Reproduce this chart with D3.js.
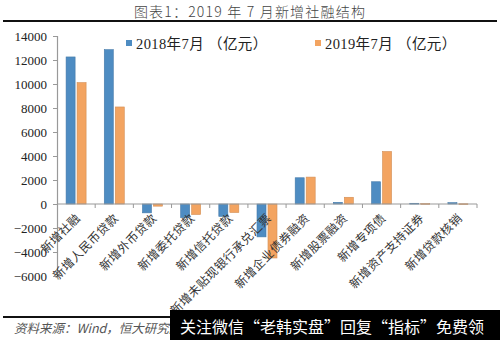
<!DOCTYPE html>
<html><head><meta charset="utf-8">
<script src="https://cdn.jsdelivr.net/npm/d3@7"></script>
<style>body{margin:0;background:#fff;}svg{display:block;}</style>
</head><body>
<script>
const categories = ["新增社融","新增人民币贷款","新增外币贷款","新增委托贷款","新增信托贷款","新增未贴现银行承兑汇票","新增企业债券融资","新增股票融资","新增专项债","新增资产支持证券","新增贷款核销"];
const series2018 = [12254, 12861, -737, -1136, -1031, -2740, 2186, 138, 1854, 60, 110];
const series2019 = [10115, 8086, -179, -876, -707, -4500, 2242, 560, 4372, 40, 20];
const seriesNames = ["2018年7月 （亿元）","2019年7月 （亿元）"];
const yTicks = [-6000,-4000,-2000,0,2000,4000,6000,8000,10000,12000,14000];
const colors = ["#4e8cc2","#f3a461"];

(function(){
const W=500,H=340;
const svg=d3.select("body").append("svg").attr("width",W).attr("height",H);
const pLeft=57,pRight=477,pTop=36,pBottom=276;
const y=d3.scaleLinear().domain([-6000,14000]).range([pBottom,pTop]);
const x=d3.scaleBand().domain(categories).range([pLeft,pRight]).paddingInner(0).paddingOuter(0);
const sub=d3.scaleBand().domain([0,1]).range([x.bandwidth()/2-10,x.bandwidth()/2+10]).paddingInner(0.18);

// title
svg.append("text").attr("x",250).attr("y",17).attr("text-anchor","middle")
  .attr("font-family","Noto Sans CJK SC").attr("font-weight",300).attr("font-size",14).attr("letter-spacing",1.2).attr("fill","#444")
  .text("图表1：2019 年 7 月新增社融结构");
svg.append("line").attr("x1",3).attr("x2",497).attr("y1",21).attr("y2",21).attr("stroke","#111").attr("stroke-width",2);

// y axis
const ya=svg.append("g").attr("transform",`translate(${pLeft},0)`).call(d3.axisLeft(y).tickValues(yTicks).tickSize(4).tickPadding(6).tickFormat(d3.format("d")));
ya.select(".domain").attr("stroke","#999").attr("stroke-width",1.2);
ya.selectAll(".tick line").attr("stroke","#999");
ya.selectAll("text").attr("font-family","Liberation Serif").attr("font-size",13).attr("fill","#222");

// bars
const data=[series2018,series2019];
data.forEach((s,i)=>{
  svg.append("g").selectAll("rect").data(s).join("rect")
    .attr("x",(d,j)=>x(categories[j])+sub(i))
    .attr("width",sub.bandwidth())
    .attr("y",d=>y(Math.max(0,d)))
    .attr("height",d=>Math.max(0.8,Math.abs(y(d)-y(0))))
    .attr("fill",colors[i])
    .attr("stroke",d3.color(colors[i]).darker(0.4)).attr("stroke-width",0.6);
});

// x axis at zero
const xa=svg.append("g").attr("transform",`translate(0,${y(0)})`);
xa.append("line").attr("x1",pLeft).attr("x2",pRight).attr("stroke","#999").attr("stroke-width",1.2);
const bounds=categories.map(c=>x(c)).concat([pRight]);
xa.selectAll(".tk").data(bounds.slice(1)).join("line").attr("x1",d=>d).attr("x2",d=>d).attr("y1",0).attr("y2",4).attr("stroke","#999");
svg.append("g").selectAll("text").data(categories).join("text")
  .attr("transform",c=>`translate(${x(c)+x.bandwidth()/2+5},${y(0)+15}) rotate(-45)`)
  .attr("text-anchor","end").attr("font-family","Noto Sans CJK SC").attr("font-size",12).attr("letter-spacing",0.4).attr("fill","#333")
  .text(c=>c);

// legend
seriesNames.forEach((n,i)=>{
  const lx=i===0?126:315;
  svg.append("rect").attr("x",lx).attr("y",40).attr("width",6).attr("height",6).attr("fill",colors[i]);
  svg.append("text").attr("x",lx+10).attr("y",49).attr("font-family","Liberation Serif, Noto Sans CJK SC").attr("font-size",14.5).attr("letter-spacing",0.4).attr("fill","#222").text(n);
});

// source
svg.append("line").attr("x1",3).attr("x2",497).attr("y1",317).attr("y2",317).attr("stroke","#111").attr("stroke-width",2);
svg.append("text").attr("x",14).attr("y",333).attr("font-family","Noto Sans CJK SC").attr("font-size",12.5).attr("font-style","italic").attr("fill","#555").text("资料来源：Wind，恒大研究院");
// overlay banner
svg.append("rect").attr("x",170).attr("y",310).attr("width",330).attr("height",30).attr("fill","#000");
svg.append("text").attr("x",180).attr("y",333).attr("font-family","Noto Sans CJK SC").attr("font-size",16).attr("fill","#fff").text("关注微信“老韩实盘”回复“指标”免费领");
})();
</script>
</body></html>
